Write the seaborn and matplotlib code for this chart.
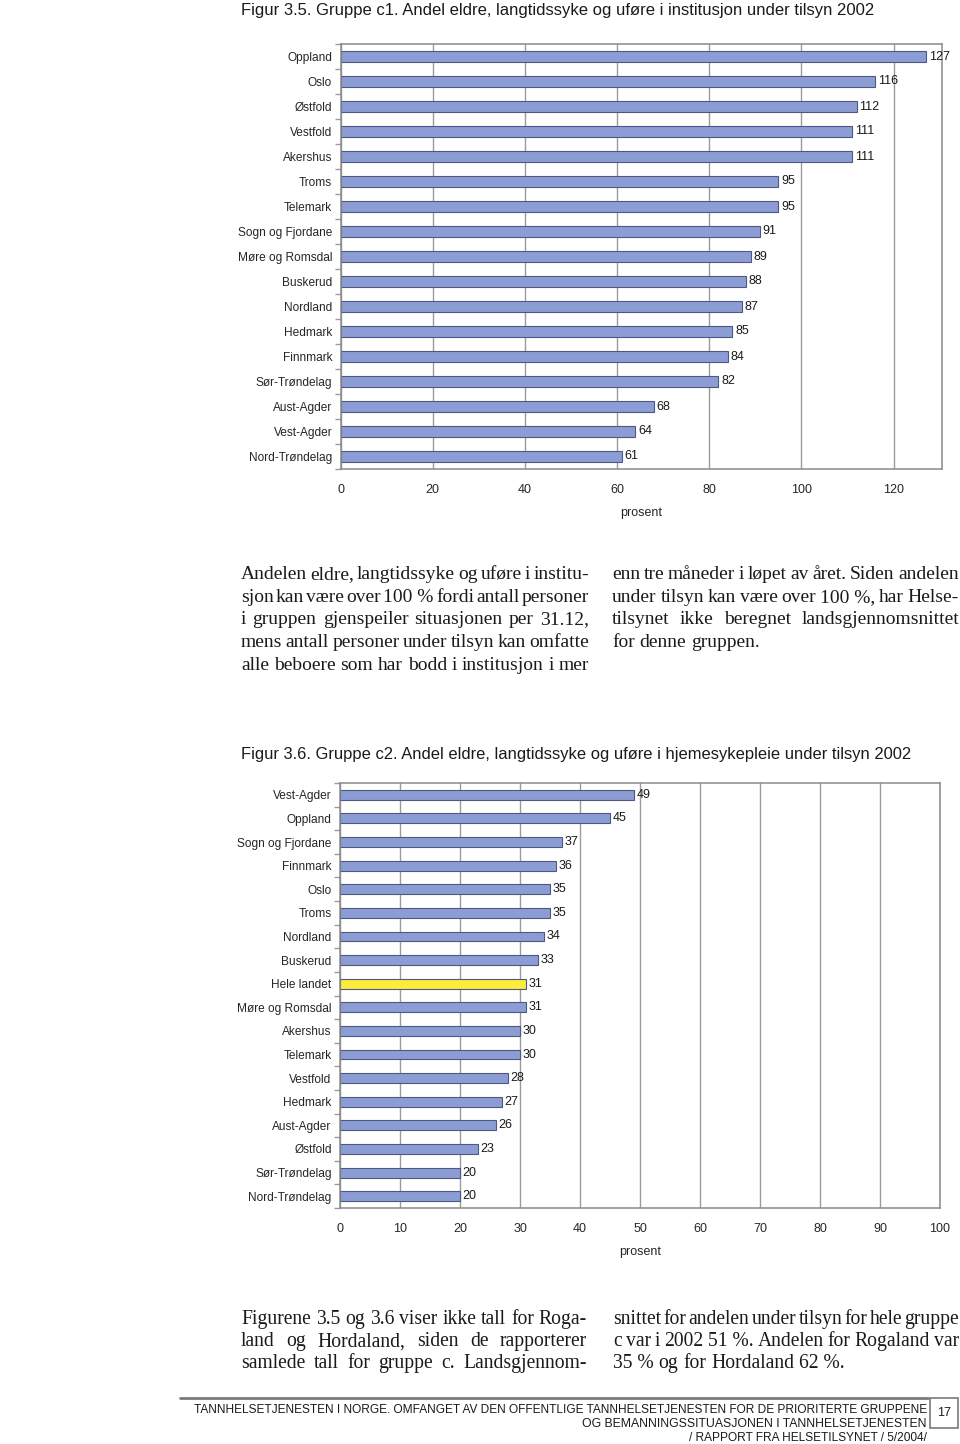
import numpy as np
import seaborn as sns
import matplotlib.pyplot as plt
from matplotlib import font_manager
from matplotlib.patches import Rectangle
from matplotlib.lines import Line2D

# figur 3.5 - institusjon
fylker_c1 = ["Oppland", "Oslo", "Østfold", "Vestfold", "Akershus", "Troms",
             "Telemark", "Sogn og Fjordane", "Møre og Romsdal", "Buskerud",
             "Nordland", "Hedmark", "Finnmark", "Sør-Trøndelag", "Aust-Agder",
             "Vest-Agder", "Nord-Trøndelag"]
andel_c1 = [127, 116, 112, 111, 111, 95, 95, 91, 89, 88, 87, 85, 84, 82, 68, 64, 61]

# figur 3.6 - hjemmesykepleie
fylker_c2 = ["Vest-Agder", "Oppland", "Sogn og Fjordane", "Finnmark", "Oslo",
             "Troms", "Nordland", "Buskerud", "Hele landet", "Møre og Romsdal",
             "Akershus", "Telemark", "Vestfold", "Hedmark", "Aust-Agder",
             "Østfold", "Sør-Trøndelag", "Nord-Trøndelag"]
andel_c2 = [49, 45, 37, 36, 35, 35, 34, 33, 31, 31, 30, 30, 28, 27, 26, 23, 20, 20]

ticks_c1 = [0, 20, 40, 60, 80, 100, 120]
ticks_c2 = [0, 10, 20, 30, 40, 50, 60, 70, 80, 90, 100]

tittel_1 = "Figur 3.5. Gruppe c1. Andel eldre, langtidssyke og uføre i institusjon under tilsyn 2002"
tittel_2 = "Figur 3.6. Gruppe c2. Andel eldre, langtidssyke og uføre i hjemesykepleie under tilsyn 2002"

avsnitt_1_v = ["Andelen eldre, langtidssyke og uføre i institu-",
               "sjon kan være over 100\u00a0% fordi antall personer",
               "i gruppen gjenspeiler situasjonen per 31.12,",
               "mens antall personer under tilsyn kan omfatte",
               "alle beboere som har bodd i institusjon i mer"]
avsnitt_1_h = ["enn tre måneder i løpet av året. Siden andelen",
               "under tilsyn kan være over 100\u00a0%, har Helse-",
               "tilsynet ikke beregnet landsgjennomsnittet",
               "for denne gruppen."]
avsnitt_2_v = ["Figurene 3.5 og 3.6 viser ikke tall for Roga-",
               "land og Hordaland, siden de rapporterer",
               "samlede tall for gruppe c. Landsgjennom-"]
avsnitt_2_h = ["snittet for andelen under tilsyn for hele gruppe",
               "c var i 2002 51\u00a0%. Andelen for Rogaland var",
               "35\u00a0% og for Hordaland 62\u00a0%."]

bunntekst = ["TANNHELSETJENESTEN I NORGE. OMFANGET AV DEN OFFENTLIGE TANNHELSETJENESTEN FOR DE PRIORITERTE GRUPPENE",
             "OG BEMANNINGSSITUASJONEN I TANNHELSETJENESTEN",
             "/ RAPPORT FRA HELSETILSYNET / 5/2004/"]

BLUE = "#8c9dd5"
YELLOW = "#fcec3c"
EDGE = "#4f5880"
GRID = "#9b9b9b"
W, H = 960, 1444
FS = 8.6

sns.set_theme(style="white")
names = {f.name for f in font_manager.fontManager.ttflist}
SANS = "Liberation Sans Narrow" if "Liberation Sans Narrow" in names else "Liberation Sans"
SERIF = "Liberation Serif"
plt.rcParams["font.family"] = [SANS, "DejaVu Sans"]
plt.rcParams["text.color"] = "#1a1a1a"

fig = plt.figure(figsize=(W / 100, H / 100), dpi=100)
renderer = fig.canvas.get_renderer()


def ax_rect(x0, y0, x1, y1):
    return [x0 / W, 1 - y1 / H, (x1 - x0) / W, (y1 - y0) / H]


def style_axis(ax, n, xmax, ticks):
    ax.set_xlim(0, xmax)
    ax.set_xticks(ticks)
    ax.set_yticks(np.arange(-0.5, n), minor=True)
    ax.xaxis.grid(True, color=GRID, lw=1)
    ax.set_axisbelow(True)
    ax.set_xlabel("prosent", fontsize=FS + 0.4, labelpad=8)
    ax.set_ylabel("")
    ax.tick_params(axis="x", length=5, width=1, color=GRID, pad=6, labelsize=FS + 0.4)
    ax.tick_params(axis="y", which="major", length=0, pad=6, labelsize=FS)
    ax.tick_params(axis="y", which="minor", left=True, length=4, width=1, color=GRID)
    for s in ax.spines.values():
        s.set_color("#8a8a8a")
        s.set_linewidth(1.1)
    for c in ax.containers:
        ax.bar_label(c, padding=2, fontsize=FS + 0.4)


ax1 = fig.add_axes(ax_rect(340.5, 44, 942, 469))
sns.barplot(x=andel_c1, y=fylker_c1, orient="h", color=BLUE, width=0.42,
            edgecolor=EDGE, linewidth=0.8, saturation=1, ax=ax1)
style_axis(ax1, len(fylker_c1), 130.5, ticks_c1)

farger = {f: (YELLOW if f == "Hele landet" else BLUE) for f in fylker_c2}
ax2 = fig.add_axes(ax_rect(340, 783, 940, 1208))
sns.barplot(x=andel_c2, y=fylker_c2, hue=fylker_c2, palette=farger, orient="h",
            width=0.42, edgecolor=EDGE, linewidth=0.8, saturation=1, legend=False, ax=ax2)
style_axis(ax2, len(fylker_c2), 100, ticks_c2)


def fit_text(s, x, y, width, family, ha="left", size=10, **kw):
    t = fig.text(x / W, 1 - y / H, s, family=family, fontsize=size, ha=ha, va="baseline", **kw)
    w = t.get_window_extent(renderer).width
    t.set_fontsize(size * width / w)
    return t


def word_widths(words, size):
    out = []
    for w in words:
        t = fig.text(0, 0, w, family=SERIF, fontsize=size)
        out.append(t.get_window_extent(renderer).width)
        t.remove()
    return out


def min_gap(columns, size):
    # smallest word gap over all justified lines in a paragraph
    g = 99.0
    for lines, x0, x1, last_free in columns:
        for i, line in enumerate(lines):
            words = line.split(" ")
            if len(words) < 2 or (last_free and i == len(lines) - 1):
                continue
            g = min(g, (x1 - x0 - sum(word_widths(words, size))) / (len(words) - 1))
    return g


def paragraph(columns, y0, step, size):
    while min_gap(columns, size) < 2.0:
        size -= 0.1
    for lines, x0, x1, last_free in columns:
        for i, line in enumerate(lines):
            words = line.split(" ")
            widths = word_widths(words, size)
            if len(words) < 2 or (last_free and i == len(lines) - 1):
                gap = size * 0.25 * 100 / 72
            else:
                gap = (x1 - x0 - sum(widths)) / (len(words) - 1)
            x = x0
            y = y0 + i * step
            for w, wd in zip(words, widths):
                fig.text(x / W, 1 - y / H, w, family=SERIF, fontsize=size, va="baseline")
                x += wd + gap


fit_text(tittel_1, 241, 15, 631, SANS)
fit_text(tittel_2, 241, 759, 669, SANS)

paragraph([(avsnitt_1_v, 241, 589, False), (avsnitt_1_h, 612, 959, True)], 579, 22.7, 14.6)
paragraph([(avsnitt_2_v, 241, 587, False), (avsnitt_2_h, 613, 959, True)], 1324, 22.2, 14.6)

fig.add_artist(Line2D([180 / W, 928 / W], [1 - 1398 / H] * 2, color="#7a7a7a", lw=2))
fig.add_artist(Rectangle((930 / W, 1 - 1428 / H), 28 / W, 30 / H, fill=False,
                         edgecolor="#7a7a7a", lw=1.2))
fig.text(944 / W, 1 - 1413 / H, "17", ha="center", va="center", fontsize=9, family=SANS)
fit_text(bunntekst[0], 927, 1413, 732, SANS, ha="right")
fit_text(bunntekst[1], 927, 1427, 345, SANS, ha="right")
fit_text(bunntekst[2], 927, 1441, 240, SANS, ha="right")

fig.savefig("out.png", dpi=100)
